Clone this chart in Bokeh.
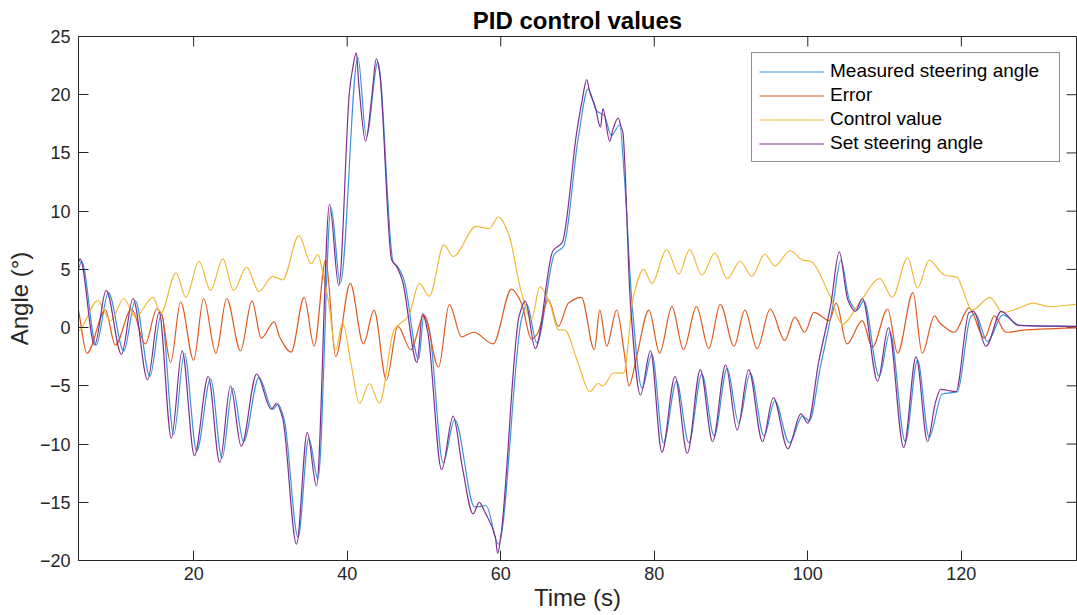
from bokeh.plotting import figure
from bokeh.models import Range1d, Legend, LegendItem, FixedTicker
from bokeh.embed import file_html
from bokeh.resources import INLINE

# ---------------- data ----------------
meas_t = [5.0, 5.4, 7.3, 8.9, 10.9, 12.4, 14.3, 15.8, 17.4, 18.8, 20.4, 22.2, 23.7, 25.1, 26.5,
          28.5, 30.3, 31.0, 31.8, 33.6, 35.0, 36.2, 37.9, 39.1, 41.4, 42.5, 44.0, 46.0, 46.6, 47.4,
          49.3, 50.0, 50.7, 52.5, 54.0, 56.6, 58.1, 59.7, 62.7, 63.4, 64.7, 67.0, 68.2, 70.1, 71.4,
          72.5, 73.5, 74.4, 75.5, 76.1, 77.1, 78.4, 79.7, 81.2, 82.9, 84.5, 86.2, 87.8, 89.5, 91.0,
          92.5, 94.3, 95.7, 97.6, 99.3, 100.2, 101.6, 103.2, 104.3, 105.4, 106.4, 107.3, 109.3, 110.7,
          112.7, 114.3, 115.8, 117.5, 119.5, 121.2, 121.8, 123.4, 125.4, 127.6, 135.0]
meas_v = [5.0, 5.7, -1.5, 3.0, -2.0, 2.3, -4.2, 1.2, -9.2, -2.2, -10.6, -4.4, -11.2, -5.2, -9.8,
          -4.3, -7.0, -6.6, -7.9, -18.0, -9.5, -13.0, 10.3, 3.8, 23.2, 16.4, 22.8, 5.6, 5.2, 4.1,
          -2.7, 1.0, -0.2, -11.6, -7.9, -15.4, -15.3, -18.6, 0.7, 2.0, -1.3, 6.3, 7.0, 16.3, 20.5,
          18.6, 18.2, 16.5, 17.4, 13.0, 2.1, -5.2, -2.3, -9.9, -4.6, -9.9, -4.0, -9.3, -3.5, -8.2,
          -3.9, -9.3, -6.3, -9.9, -7.6, -8.0, -3.5, 1.6, 5.8, 2.4, 1.5, 2.3, -4.2, -0.4,
          -9.8, -2.8, -9.4, -5.7, -5.5, 0.9, 1.2, -1.2, 1.1, 0.2, 0.1]

err_t = [5.0, 6.1, 8.5, 9.8, 11.9, 13.7, 15.2, 15.8, 17.0, 18.3, 20.0, 21.3, 22.9, 24.3, 26.1,
         27.6, 28.8, 30.5, 31.2, 32.7, 34.4, 35.7, 37.2, 38.5, 40.4, 42.1, 43.5, 45.1, 46.6, 48.3,
         50.0, 51.9, 53.3, 54.9, 56.5, 59.0, 61.4, 62.7, 64.0, 64.8, 66.2, 67.5, 68.8, 70.5, 72.2,
         72.9, 73.8, 75.1, 76.1, 76.7, 77.7, 79.3, 80.7, 82.3, 83.8, 85.5, 87.1, 88.6, 90.4, 91.8,
         93.4, 95.1, 97.0, 98.3, 99.6, 100.8, 102.8, 103.7, 105.1, 107.1, 108.4, 110.4, 111.7, 113.7,
         114.9, 116.5, 117.2, 119.1, 121.0, 123.0, 124.3, 125.8, 128.3, 135.0]
err_v = [1.5, -2.2, 1.5, -1.5, 1.6, -1.4, 1.6, 1.2, -3.0, 2.2, -2.8, 2.5, -2.2, 2.5, -2.0,
         2.3, -0.9, 0.5, -0.8, -2.1, 2.6, -1.6, 5.8, -2.5, 3.8, -1.4, 1.5, -4.5, 0.1, -1.9,
         1.1, -3.4, 2.0, -0.8, -0.4, -1.4, 3.3, 2.1, -1.0, -0.5, 2.4, 0.1, 2.1, 2.6, -1.9,
         1.5, -1.6, 1.5, -2.2, -5.0, -2.5, 1.5, -2.2, 1.8, -1.9, 1.8, -1.8, 2.0, -1.6, 1.5,
         -1.8, 1.6, -1.1, 0.9, -0.4, 1.3, 0.6, 2.1, -1.4, 0.6, -1.7, 1.6, -2.2, 3.0,
         -2.2, 1.0, 0.4, -0.4, 1.7, -0.9, 1.0, -0.4, -0.2, 0.0]

ctl_t = [5.0, 5.2, 7.5, 9.2, 10.9, 12.4, 14.7, 15.7, 17.7, 19.0, 20.7, 22.2, 23.8, 25.2, 26.9,
         28.5, 30.3, 31.6, 33.7, 35.3, 36.2, 36.6, 37.6, 38.5, 39.4, 40.5, 41.6, 42.9, 44.2, 46.1,
         48.0, 49.4, 50.7, 52.6, 53.8, 56.8, 58.5, 59.7, 61.0, 62.7, 64.0, 65.1, 66.4, 67.5, 68.3,
         70.1, 71.6, 72.7, 73.3, 74.7, 76.0, 77.3, 78.6, 79.7, 81.6, 83.2, 84.6, 86.2, 87.9, 89.5,
         91.2, 92.7, 94.4, 95.7, 97.7, 99.3, 100.3, 102.9, 104.5, 106.7, 109.4, 111.0, 113.0, 114.3,
         115.8, 117.3, 117.9, 119.5, 120.0, 121.4, 123.7, 125.4, 127.6, 129.3, 131.5, 135.0]
ctl_v = [-0.3, -0.2, 2.3, 0.6, 2.5, 0.9, 2.6, 1.2, 4.7, 2.6, 5.7, 3.2, 5.9, 3.2, 5.2,
         3.1, 4.4, 4.1, 7.9, 5.5, 6.3, 5.4, 2.1, -1.9, 0.4, -3.1, -6.5, -4.8, -6.5, -0.2,
         1.0, 3.8, 2.7, 7.1, 6.1, 8.7, 8.5, 9.5, 8.1, 3.0, 0.7, 3.5, 2.1, -0.2, -0.2,
         -3.1, -5.5, -4.8, -5.0, -3.9, -3.9, 2.7, 5.0, 3.8, 6.7, 4.6, 6.7, 4.5, 6.4, 4.2,
         5.7, 4.4, 6.3, 5.3, 6.6, 5.8, 5.7, 2.7, 0.3, 2.1, 4.2, 2.6, 6.0, 3.4,
         5.8, 4.8, 4.5, 4.3, 3.6, 1.5, 2.6, 1.3, 1.7, 2.1, 1.8, 2.0]

set_t = [5.0, 5.2, 7.1, 8.6, 10.6, 12.1, 14.0, 15.5, 17.1, 18.5, 20.1, 21.9, 23.4, 24.8, 26.2,
         28.2, 30.1, 30.8, 31.6, 33.4, 34.8, 36.0, 37.7, 38.9, 40.3, 40.6, 41.2, 41.5, 42.4, 43.2,
         43.8, 44.2, 45.8, 46.4, 47.2, 49.1, 49.8, 50.5, 52.3, 53.8, 55.0, 56.4, 57.2, 57.9, 59.3,
         59.6, 60.0, 62.4, 63.2, 64.5, 66.8, 68.0, 69.9, 70.6, 71.2, 71.6, 72.3, 73.0, 73.3, 74.2,
         74.6, 75.3, 75.7, 75.9, 76.9, 78.2, 79.5, 81.0, 82.7, 84.3, 86.0, 87.6, 89.3, 90.8,
         92.3, 94.1, 95.5, 97.4, 99.1, 100.0, 101.4, 103.0, 104.1, 105.2, 106.2, 107.1, 109.1, 110.5,
         112.5, 114.1, 115.6, 116.6, 117.3, 119.3, 121.0, 121.6, 123.2, 125.2, 127.4, 135.0]
set_v = [5.6, 5.9, -1.5, 3.2, -2.3, 2.5, -4.5, 1.3, -9.5, -2.0, -11.0, -4.2, -11.6, -5.0, -10.2,
         -4.0, -7.0, -6.5, -7.8, -18.6, -9.0, -13.6, 10.6, 3.6, 20.3, 21.8, 23.6, 21.0, 16.0, 19.8,
         23.1, 22.0, 5.8, 5.3, 4.0, -3.0, 1.2, -0.4, -12.2, -7.6, -12.0, -16.0, -15.0, -15.8, -18.0,
         -19.4, -18.0, 1.0, 2.3, -1.8, 6.6, 7.3, 16.8, 19.5, 21.3, 20.2, 19.0, 17.2, 18.8, 16.0,
         17.0, 18.0, 17.2, 16.8, 2.0, -5.8, -2.0, -10.7, -4.2, -10.8, -3.6, -9.8, -3.2, -8.8,
         -3.6, -9.8, -6.0, -10.4, -7.4, -8.2, -3.0, 2.0, 6.5, 2.4, 1.4, 2.5, -4.6, 0.0,
         -10.3, -2.5, -9.8, -6.5, -5.3, -5.5, 1.3, 1.4, -1.6, 1.4, 0.2, 0.1]

x_ticks = [20, 40, 60, 80, 100, 120]
y_ticks = [-20, -15, -10, -5, 0, 5, 10, 15, 20, 25]
x_lim = [5, 135]
y_lim = [-20, 25]
series_labels = ["Measured steering angle", "Error", "Control value", "Set steering angle"]

# ---------------- figure ----------------
FONT = "Liberation Sans"
AX = "#262626"
W, H = 1077, 615
BL, BR, BT, BB = 78, 1, 36, 55

p = figure(width=W, height=H, output_backend="svg", toolbar_location=None,
           x_range=Range1d(*x_lim), y_range=Range1d(*y_lim),
           min_border_left=BL, min_border_right=BR, min_border_top=BT, min_border_bottom=BB,
           title="PID control values")
p.title.text_font = FONT
p.title.text_font_size = "24px"
p.title.text_font_style = "bold"
p.title.align = "center"
p.title.text_color = "#000000"
p.title.offset = 0
p.title.standoff = 5

p.grid.visible = False
p.background_fill_color = "white"
p.border_fill_color = "white"
p.outline_line_color = AX
p.outline_line_width = 1

for ax, ticks in ((p.xaxis[0], x_ticks), (p.yaxis[0], y_ticks)):
    ax.ticker = FixedTicker(ticks=ticks)
    ax.major_tick_in = 10
    ax.major_tick_out = 0
    ax.minor_tick_line_color = None
    ax.major_tick_line_color = AX
    ax.axis_line_color = AX
    ax.major_label_text_font = FONT
    ax.major_label_text_font_size = "18px"
    ax.major_label_text_color = AX
    ax.axis_label_text_font = FONT
    ax.axis_label_text_font_size = "24px"
    ax.axis_label_text_font_style = "normal"
    ax.axis_label_text_color = AX

p.xaxis[0].axis_label = "Time (s)"
p.yaxis[0].axis_label = "Angle (°)"
p.xaxis[0].major_label_standoff = 6
p.xaxis[0].axis_label_standoff = 1
p.yaxis[0].major_label_standoff = 8
p.yaxis[0].axis_label_standoff = 4

# mirrored inward ticks on the top and right edges (MATLAB "box on")
frame_w = W - BL - BR
frame_h = H - BT - BB
tick_len = 10
dy = tick_len * (y_lim[1] - y_lim[0]) / frame_h
dx = tick_len * (x_lim[1] - x_lim[0]) / frame_w
p.segment(x0=x_ticks, y0=[y_lim[1]] * len(x_ticks), x1=x_ticks, y1=[y_lim[1] - dy] * len(x_ticks),
          line_color=AX, line_width=1)
p.segment(x0=[x_lim[1]] * len(y_ticks), y0=y_ticks, x1=[x_lim[1] - dx] * len(y_ticks), y1=y_ticks,
          line_color=AX, line_width=1)


def curve_segments(xs, ys):
    """Smooth (monotone cubic) curve through the read points, drawn with Bokeh's bezier glyph."""
    n = len(xs)
    h = [xs[i + 1] - xs[i] for i in range(n - 1)]
    d = [(ys[i + 1] - ys[i]) / h[i] for i in range(n - 1)]
    m = [0.0] * n
    m[0], m[-1] = d[0], d[-1]
    for k in range(1, n - 1):
        if d[k - 1] * d[k] <= 0:
            m[k] = 0.0
        else:
            w1 = 2 * h[k] + h[k - 1]
            w2 = h[k] + 2 * h[k - 1]
            m[k] = (w1 + w2) / (w1 / d[k - 1] + w2 / d[k])
    seg = dict(x0=[], y0=[], x1=[], y1=[], cx0=[], cy0=[], cx1=[], cy1=[])
    for i in range(n - 1):
        seg["x0"].append(xs[i]); seg["y0"].append(ys[i])
        seg["x1"].append(xs[i + 1]); seg["y1"].append(ys[i + 1])
        seg["cx0"].append(xs[i] + h[i] / 3); seg["cy0"].append(ys[i] + m[i] * h[i] / 3)
        seg["cx1"].append(xs[i + 1] - h[i] / 3); seg["cy1"].append(ys[i + 1] - m[i + 1] * h[i] / 3)
    return seg


colors = ["#3d92da", "#dc5a20", "#eebb3a", "#7e2f8e"]
series = [(meas_t, meas_v), (err_t, err_v), (ctl_t, ctl_v), (set_t, set_v)]
LW = 1.2
items = []
for (tt, vv), c, lab in zip(series, colors, series_labels):
    r = p.bezier(line_color=c, line_width=LW, **curve_segments(tt, vv))
    items.append(LegendItem(label=lab, renderers=[r], index=0))

legend = Legend(items=items, location="top_right")
legend.label_text_font = FONT
legend.label_text_font_size = "19px"
legend.label_text_color = "#000000"
legend.glyph_width = 65
legend.glyph_height = 21
legend.label_height = 21
legend.label_width = 222
legend.label_standoff = 6
legend.spacing = 2
legend.padding = 7
legend.margin = 16
legend.border_line_color = AX
legend.border_line_width = 1
legend.background_fill_alpha = 1
p.add_layout(legend, "center")

open("out.html", "w").write(file_html(p, INLINE))
